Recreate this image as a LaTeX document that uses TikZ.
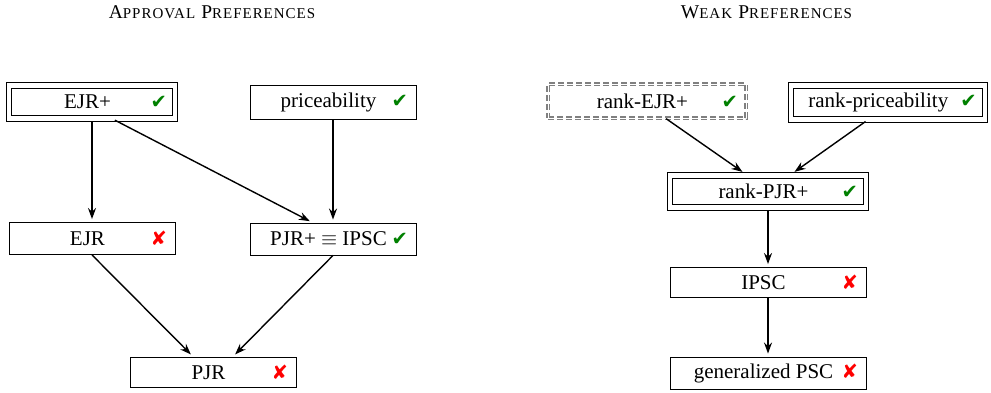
\documentclass[tikz,border=0pt]{standalone}
\usepackage{fontspec}
\setmainfont{Liberation Serif}
\newfontfamily\symfont{DejaVu Sans}
\newfontfamily\titlefont[LetterSpace=6.5]{Liberation Serif}
\usetikzlibrary{arrows.meta}
\definecolor{okgreen}{RGB}{0,128,0}
\definecolor{nored}{RGB}{255,0,0}
\newcommand\yes{{\symfont\fontsize{19.5}{19.5}\selectfont\color{okgreen}✔}}
\newcommand\no{{\symfont\fontsize{19.5}{19.5}\selectfont\color{nored}✘}}
\newcommand\lbl[4]{\makebox[#1pt][l]{\makebox[#2pt][c]{#3}\hfill\makebox[0pt][r]{#4}\hspace*{8pt}}}
\newcommand\sm[1]{{\fontsize{15}{15}\selectfont #1}}
\tikzset{
  box/.style={draw, line width=0.9pt, inner xsep=0pt, inner ysep=0pt, minimum height=32pt, font=\fontsize{21}{25}\selectfont},
  dbox/.style={box, double, double distance=4.5pt},
  gbox/.style={box, draw=black!50, line width=1.2pt, double, double distance=0.8pt, dash pattern=on 6pt off 3pt, minimum height=34pt},
  arr/.style={-{Stealth[length=11pt,width=8pt]}, line width=1.4pt, shorten >=3pt},
  ttl/.style={anchor=base, inner sep=0pt, font=\titlefont\fontsize{19.5}{22}\selectfont}
}
\begin{document}
\begin{tikzpicture}[x=1pt,y=-1pt]
\useasboundingbox (0,0) rectangle (991,393);
% titles
\node[ttl] (t1) at (212,19) {A\sm{PPROVAL} P\sm{REFERENCES}};
\node[ttl] (t2) at (766.5,19) {W\sm{EAK} P\sm{REFERENCES}};
% approval
\node[dbox, minimum height=33pt] (ejrp) at (92,102) {\lbl{166}{157}{EJR+}{\yes}};
\node[box, minimum height=34pt] (price) at (333,102) {\lbl{166}{157}{priceability}{\yes}};
\node[box] (ejr) at (92,238.5) {\lbl{166}{157}{EJR}{\no}};
\node[box] (pjrp) at (333,239) {\lbl{166}{157}{PJR+ $\equiv$ IPSC}{\yes}};
\node[box, minimum height=30pt] (pjr) at (213,372) {\lbl{166}{157}{PJR}{\no}};
\draw[arr, shorten <=2.7pt] (ejrp.south) -- (ejr.north);
\draw[arr, shorten <=2.7pt] ([xshift=20.5pt]ejrp.south) -- ([xshift=-20.5pt]pjrp.north);
\draw[arr] (price.south) -- (pjrp.north);
\draw[arr] (ejr.south) -- ([xshift=-20pt]pjr.north);
\draw[arr] (pjrp.south) -- ([xshift=20pt]pjr.north);
% weak
\node[gbox] (rejrp) at (647,101) {\lbl{198}{189}{rank-EJR+}{\yes}};
\node[dbox, minimum height=34pt] (rprice) at (887.75,102.5) {\lbl{194}{175}{rank-priceability}{\yes}};
\node[dbox] (rpjrp) at (768,191.5) {\lbl{196}{187}{rank-PJR+}{\yes}};
\node[box, minimum height=30pt] (ipsc) at (768,282.5) {\lbl{196}{187}{IPSC}{\no}};
\node[box] (gpsc) at (768,373) {\lbl{196}{187}{generalized PSC}{\no}};
\draw[arr, shorten >=5.5pt] ([xshift=19pt]rejrp.south) -- ([xshift=-21pt]rpjrp.north);
\draw[arr, shorten >=5.5pt, shorten <=2.7pt] ([xshift=-20pt]rprice.south) -- ([xshift=22pt]rpjrp.north);
\draw[arr, shorten <=2.7pt] (rpjrp.south) -- (ipsc.north);
\draw[arr] (ipsc.south) -- (gpsc.north);
\end{tikzpicture}
\end{document}
